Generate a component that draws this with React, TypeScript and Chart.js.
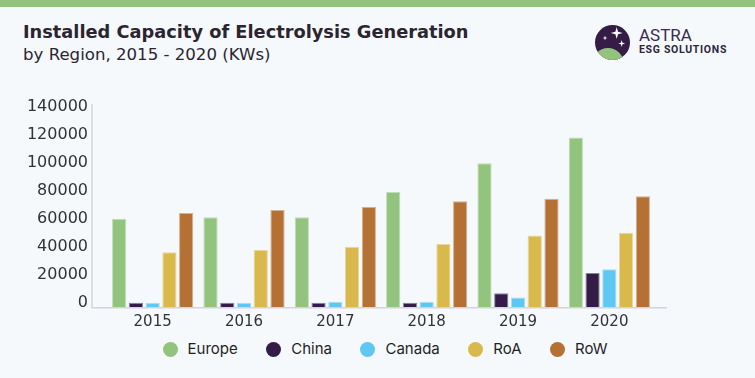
import React, { useEffect, useRef } from "react";
import { Chart, registerables } from "chart.js";

Chart.register(...registerables);

const years = ["2015", "2016", "2017", "2018", "2019", "2020"];
const seriesNames = ["Europe", "China", "Canada", "RoA", "RoW"];
const seriesColors = ["#93c47d", "#331c47", "#5ec8f3", "#d9b94c", "#b57134"];
const europe = [60000, 61000, 61000, 79000, 99500, 118000];
const china = [0, 0, 0, 0, 6700, 21200];
const canada = [0, 0, 700, 700, 3600, 23900];
const roa = [36000, 37600, 40000, 41900, 47900, 50000];
const row = [64000, 66200, 68400, 72400, 74300, 76000];
const seriesValues = [europe, china, canada, roa, row];
const yTicks = [0, 20000, 40000, 60000, 80000, 100000, 120000, 140000];
const yMin = -3600;
const yMax = 141900;

const axisLines = {
  id: "axisLines",
  afterDatasetsDraw(chart: any) {
    const { ctx, chartArea } = chart;
    ctx.save();
    ctx.strokeStyle = "#d4d4da";
    ctx.lineWidth = 1.5;
    ctx.beginPath();
    const x0 = chartArea.left - 15;
    ctx.moveTo(x0, chartArea.top);
    ctx.lineTo(x0, chartArea.bottom);
    ctx.lineTo(chartArea.right + 12, chartArea.bottom);
    ctx.stroke();
    ctx.restore();
  },
};

function Logo() {
  return (
    <svg width="40" height="40" viewBox="0 0 40 40" style={{ position: "absolute", left: 593, top: 23 }}>
      <defs>
        <clipPath id="lc">
          <circle cx="19.5" cy="19.5" r="17.5" />
        </clipPath>
      </defs>
      <circle cx="19.5" cy="19.5" r="17.5" fill="#341c47" />
      <circle cx="15" cy="41" r="16" fill="#93c47d" clipPath="url(#lc)" />
      <path d="M23.7 4 L25 8.7 L29.7 10 L25 11.3 L23.7 16 L22.4 11.3 L17.7 10 L22.4 8.7 Z" fill="#fff" />
      <path d="M12 12.5 L12.6 14.4 L14.5 15 L12.6 15.6 L12 17.5 L11.4 15.6 L9.5 15 L11.4 14.4 Z" fill="#fff" />
      <path d="M28.7 17 L29.5 19.7 L32.2 20.5 L29.5 21.3 L28.7 24 L27.9 21.3 L25.2 20.5 L27.9 19.7 Z" fill="#fff" />
    </svg>
  );
}

export default function App() {
  const ref = useRef<HTMLCanvasElement | null>(null);

  useEffect(() => {
    document.body.style.margin = "0";
    const chart = new Chart(ref.current as HTMLCanvasElement, {
      type: "bar",
      data: {
        labels: years,
        datasets: seriesNames.map((name, i) => ({
          label: name,
          data: seriesValues[i],
          backgroundColor: seriesColors[i],
          borderColor: seriesColors[i] + "88",
          borderWidth: 1,
          base: yMin,
          barPercentage: 0.85,
          categoryPercentage: 0.917,
        })),
      },
      options: {
        animation: false,
        responsive: true,
        maintainAspectRatio: false,
        layout: { autoPadding: false, padding: { left: 27, right: 100, top: 14, bottom: 3 } },
        plugins: { legend: { display: false }, tooltip: { enabled: false } },
        scales: {
          x: {
            grid: { display: false, drawTicks: false },
            border: { display: false },
            afterFit: (scale: any) => {
              scale.height = 24.3;
              scale.paddingLeft = 0;
              scale.paddingRight = 0;
            },
            ticks: { color: "#333", font: { family: "DejaVu Sans", size: 15 }, padding: 5 },
          },
          y: {
            min: yMin,
            max: yMax,
            grid: { display: false, drawTicks: false },
            border: { display: false },
            afterFit: (scale: any) => {
              scale.width = 80;
              scale.paddingTop = 0;
              scale.paddingBottom = 0;
            },
            afterBuildTicks: (scale: any) => {
              scale.ticks = yTicks.map((v) => ({ value: v }));
            },
            ticks: {
              padding: 19,
              color: "#333",
              font: { family: "DejaVu Sans", size: 16 },
              callback: (v: any) => String(v),
            },
          },
        },
      },
      plugins: [axisLines],
    });
    return () => chart.destroy();
  }, []);

  return (
    <div style={{ position: "fixed", left: 0, top: 0, width: 755, height: 378, background: "#f5f9fc", overflow: "hidden" }}>
      <div style={{ position: "absolute", left: 0, top: 0, width: 755, height: 7, background: "#93c47d" }} />
      <div style={{ position: "absolute", left: 23, top: 21.3, fontFamily: "DejaVu Sans", fontWeight: 700, fontSize: 17.8, lineHeight: "normal", color: "#2b2530", whiteSpace: "nowrap" }}>
        Installed Capacity of Electrolysis Generation
      </div>
      <div style={{ position: "absolute", left: 23, top: 44.5, fontFamily: "DejaVu Sans", fontSize: 16.6, lineHeight: "normal", color: "#2b2530", whiteSpace: "nowrap" }}>
        by Region, 2015 - 2020 (KWs)
      </div>
      <Logo />
      <div style={{ position: "absolute", left: 639, top: 25, fontFamily: "Roboto", fontSize: 17, color: "#3b2a4d", whiteSpace: "nowrap" }}>ASTRA</div>
      <div style={{ position: "absolute", left: 639, top: 43, fontFamily: "Roboto", fontWeight: 700, fontSize: 10.5, letterSpacing: 0.7, color: "#2f2540", whiteSpace: "nowrap" }}>ESG SOLUTIONS</div>
      <div style={{ position: "absolute", left: 0, top: 90, width: 755, height: 245 }}>
        <canvas ref={ref} />
      </div>
      <div style={{ position: "absolute", left: 162.5, top: 340, display: "flex", alignItems: "center", gap: 28.5, fontFamily: "Inter", fontSize: 15, color: "#1f1f1f", whiteSpace: "nowrap" }}>
        {seriesNames.map((n, i) => (
          <div key={n} style={{ display: "flex", alignItems: "center" }}>
            <span style={{ display: "inline-block", width: 15, height: 15, borderRadius: "50%", background: seriesColors[i], marginRight: 10 }} />
            <span style={{ lineHeight: "18px" }}>{n}</span>
          </div>
        ))}
      </div>
    </div>
  );
}
